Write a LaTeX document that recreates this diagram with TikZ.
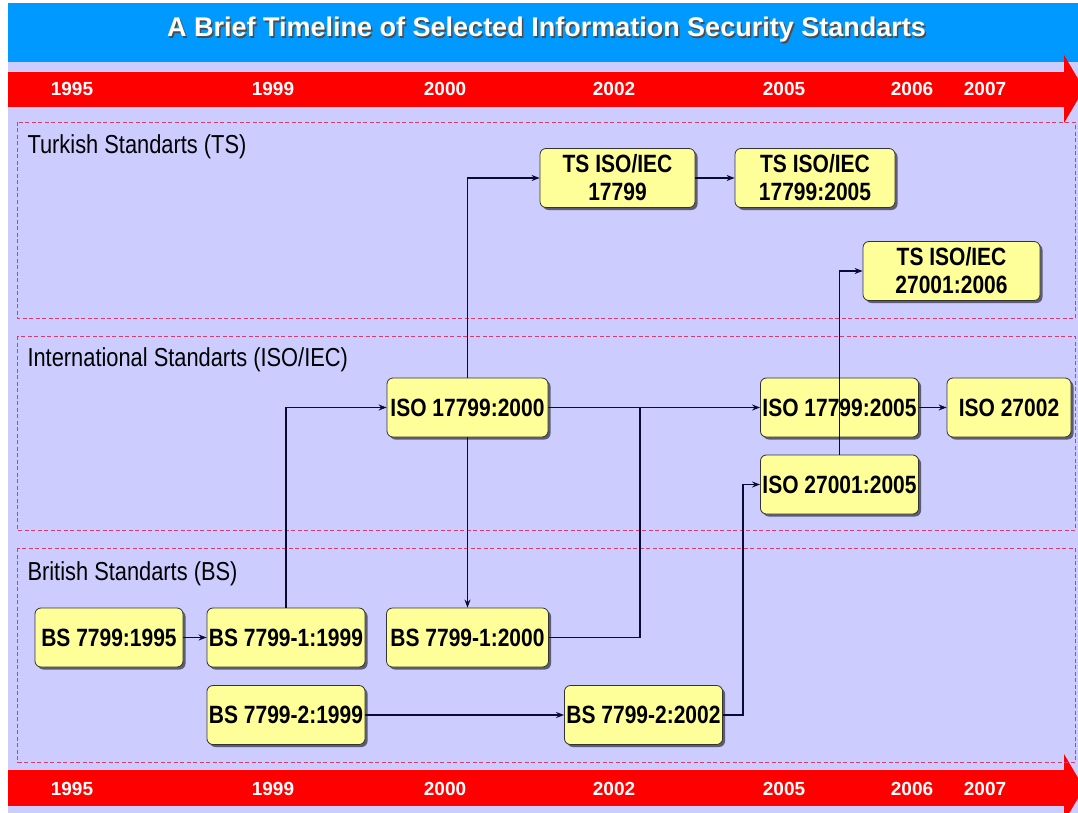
\documentclass[tikz,border=0pt]{standalone}
\usepackage{fontspec}
\setmainfont{Liberation Sans}
\newfontfamily\narrowfont{Liberation Sans}[FakeStretch=0.84]
\usetikzlibrary{calc, shadows, arrows.meta}
\definecolor{titleblue}{RGB}{0,153,255}
\definecolor{lavender}{RGB}{204,204,255}
\definecolor{boxyellow}{RGB}{255,255,153}
\definecolor{dashred}{RGB}{214,60,110}
\definecolor{linkblue}{RGB}{10,10,50}
\tikzset{
  stdbox/.style={draw=black!80, fill=boxyellow, rounded corners=6pt, thick,
    minimum height=59pt, align=center, inner sep=2pt,
    font=\narrowfont\bfseries\fontsize{25}{28}\selectfont,
    drop shadow={shadow xshift=2.5pt, shadow yshift=-2.5pt, fill=black, opacity=0.55}},
  link/.style={draw=linkblue, line width=1.2pt, -{Stealth[length=8pt,width=6pt]}},
  plainlink/.style={draw=linkblue, line width=1.2pt},
  region/.style={draw=dashred, line width=0.7pt, dash pattern=on 4pt off 2.5pt},
  regtitle/.style={anchor=west, font=\narrowfont\fontsize{26}{29}\selectfont},
  year/.style={text=white, font=\bfseries\fontsize{19}{22}\selectfont}
}
\begin{document}
\begin{tikzpicture}[x=1pt, y=-1pt]
  \useasboundingbox (0,0) rectangle (1078,813);
  % background and title
  \fill[white] (0,0) rectangle (1078,813);
  \fill[lavender] (8,62) rectangle (1078,813);
  \fill[titleblue] (8,3) rectangle (1078,62);
  \node[text=black!70, font=\bfseries\fontsize{27}{30}\selectfont] (shade) at (548,31.5)
    {A Brief Timeline of Selected Information Security Standarts};
  \node[text=white, font=\bfseries\fontsize{27}{30}\selectfont] (title) at (546.5,30)
    {A Brief Timeline of Selected Information Security Standarts};
  % time arrows
  \fill[red] (8,72) rectangle (1066,107);
  \fill[red] (1064,55) -- (1084,89) -- (1064,123) -- cycle;
  \fill[red] (8,770) rectangle (1066,806);
  \fill[red] (1064,754) -- (1084,788) -- (1064,822) -- cycle;
  \foreach \yr/\x in {1995/72, 1999/273, 2000/445, 2002/614, 2005/784, 2006/912, 2007/985} {
    \node[year] (top\yr) at (\x,89) {\yr};
    \node[year] (bot\yr) at (\x,789) {\yr};
  }
  % regions
  \draw[region] (17,122) rectangle (1075,318);
  \draw[region] (17,336) rectangle (1075,530);
  \draw[region] (17,548) rectangle (1075,762);
  \node[regtitle] (tstitle) at (24,147) {Turkish Standarts (TS)};
  \node[regtitle] (isotitle) at (24,360) {International Standarts (ISO/IEC)};
  \node[regtitle] (bstitle) at (24,574) {British Standarts (BS)};
  % standards
  \node[stdbox, minimum width=155pt] (ts17799) at (617.5,178) {TS ISO/IEC\\17799};
  \node[stdbox, minimum width=160pt] (ts17799b) at (815,178) {TS ISO/IEC\\17799:2005};
  \node[stdbox, minimum width=177pt] (ts27001) at (951.5,271) {TS ISO/IEC\\27001:2006};
  \node[stdbox, minimum width=161pt] (iso17799) at (467.5,407.5) {ISO 17799:2000};
  \node[stdbox, minimum width=157pt] (iso17799b) at (839.5,407.5) {ISO 17799:2005};
  \node[stdbox, minimum width=124pt] (iso27002) at (1009,407.5) {ISO 27002};
  \node[stdbox, minimum width=157pt] (iso27001) at (839.5,484.5) {ISO 27001:2005};
  \node[stdbox, minimum width=148pt] (bs1995) at (109,637.5) {BS 7799:1995};
  \node[stdbox, minimum width=156pt] (bs1999a) at (286,637.5) {BS 7799-1:1999};
  \node[stdbox, minimum width=162pt] (bs2000) at (467.5,637.5) {BS 7799-1:2000};
  \node[stdbox, minimum width=156pt] (bs1999b) at (286,715) {BS 7799-2:1999};
  \node[stdbox, minimum width=157pt] (bs2002) at (643.5,715) {BS 7799-2:2002};
  \coordinate (join) at (640,407.5);
  \coordinate (turn) at (743,600);
  % connectors
  \draw[link] (bs1995) -- (bs1999a);
  \draw[link] (bs1999a.north) |- (iso17799.west);
  \draw[link] (iso17799.north) |- (ts17799.west);
  \draw[link] (iso17799.south) -- (bs2000.north);
  \draw[link] (iso17799) -- (iso17799b);
  \draw[plainlink] (bs2000.east) -| (join);
  \draw[link] (ts17799) -- (ts17799b);
  \draw[link] (iso17799b) -- (iso27002);
  \draw[link] (bs1999b) -- (bs2002);
  \draw[link] (bs2002.east) -| (turn) |- (iso27001.west);
  \draw[link] (iso27001.north) |- (ts27001.west);
\end{tikzpicture}
\end{document}
